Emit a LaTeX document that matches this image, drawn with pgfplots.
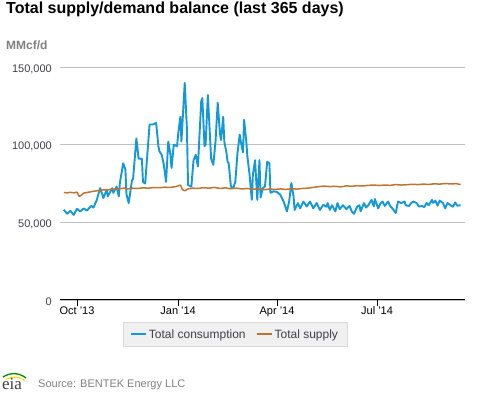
\documentclass[border=0pt]{standalone}
\usepackage{pgfplots}
\pgfplotsset{compat=1.18}
\usepackage{fontspec}
\setmainfont{Liberation Sans}
\newfontfamily\seriffont{Liberation Serif}
\definecolor{cons}{RGB}{20,152,215}
\definecolor{supp}{RGB}{190,116,46}
\definecolor{gridc}{RGB}{192,192,192}
\definecolor{lab}{RGB}{64,64,72}
\begin{document}
\begin{tikzpicture}[x=1pt,y=1pt]
\path[use as bounding box] (0,0) rectangle (477,393);
\node[anchor=base west, inner sep=0, font=\bfseries\fontsize{16}{16}\selectfont] at (6,379.5) {Total supply/demand balance (last 365 days)};
\node[anchor=base west, inner sep=0, text=gray, font=\bfseries\fontsize{12}{12}\selectfont] at (6,343) {MMcf/d};
\begin{axis}[
  at={(60pt,93pt)}, anchor=south west,
  width=405pt, height=233pt, scale only axis,
  xmin=-15.5, xmax=353, ymin=0, ymax=150000,
  axis x line*=bottom, axis y line*=left,
  x axis line style={black,-, line width=1pt},
  y axis line style={draw=none},
  ytick={0,50000,100000,150000},
  yticklabels={0,{50,000},{100,000},{150,000}},
  xtick={0,92,182,273},
  xticklabels={{Oct '13},{Jan '14},{Apr '14},{Jul '14}},
  ymajorgrids, grid style={gridc, line width=0.8pt},
  ytick style={draw=none},
  xtick style={black, line width=0.8pt},
  xtick align=outside, major tick length=6pt,
  scaled y ticks=false,
  yticklabel style={font=\fontsize{11}{11}\selectfont, text=lab, anchor=east, inner sep=0pt, xshift=-8pt, yshift=-2pt},
  xticklabel style={font=\fontsize{11}{11}\selectfont, text=black, anchor=north, inner sep=0pt, yshift=-0.5pt},
  legend columns=2,
  legend style={at={(0.432,-0.148)}, anchor=center, fill=gray!12, draw=gray!30,
    font=\fontsize{12}{12}\selectfont, text=lab, inner xsep=7pt, inner ysep=5pt,
    /tikz/every even column/.append style={column sep=8pt}},
  legend image code/.code={\draw[#1, line width=2pt] (0pt,0pt) -- (15pt,0pt);},
  clip=false,
]
\addplot[cons, line width=1.9pt, line join=round, mark=none] coordinates {
(-12,58100) (-9,55500) (-6,57400) (-3,54800) (0,58700) (3,57000) (6,58900) (9,57600)
(13,60600) (15,59500) (18,64500) (21,72000) (22,70000) (24,65600) (27,71000) (28,66700)
(32,72000) (33,69000) (36,73000) (38,66700) (39,75500) (42,88000) (44,84000) (45,68000)
(47,62400) (50,77000) (51,78000) (54,104000) (56,91000) (59,91000) (60,76000) (62,75000)
(66,113000) (69,113000) (72,114000) (74,99000) (75,95700) (77,93500) (79,87000) (81,76000)
(83,102000) (85,93500) (86,85000) (88,100000) (91,99000) (92,106500) (94,118000) (95,102000)
(98,139800) (100,110000) (101,74000) (104,73000) (106,90000) (108,93500) (110,86000)
(113,128000) (114,130000) (116,99000) (117,100000) (119,132000) (120,119000) (122,91000)
(124,87000) (126,102000) (128,127000) (130,107500) (131,103000) (133,118000) (134,102000)
(136,94600) (137,89000) (138,88000) (140,73000) (142,72000) (144,76000) (146,94600)
(148,106500) (149,102000) (151,95000) (152,116000) (154,102000) (155,92500) (157,80600)
(159,64500) (160,80600) (162,90000) (164,64500) (166,90000) (167,66000) (169,72000)
(171,73000) (173,89000) (175,88000) (176,69000) (179,70000) (182,69500) (185,67700)
(188,63400) (191,57000) (193,63400) (195,75300) (197,66700) (198,58000) (201,62400)
(203,59000) (206,63400) (209,60200) (212,63400) (215,59000) (218,62400) (221,58000)
(224,61300) (227,60000) (228,62400) (230,58000) (232,61000) (235,57000) (237,62400)
(239,58500) (242,61000) (245,58500) (248,60500) (250,57000) (252,55500) (255,60200)
(257,61000) (258,57000) (261,62400) (263,59500) (265,61000) (268,64500) (270,60200)
(271,65000) (274,59000) (276,62000) (278,63400) (280,60500) (283,63400) (285,60500)
(288,58000) (290,56000) (292,63400) (295,62400) (298,63400) (299,61000) (302,60500)
(304,62400) (306,63400) (309,62400) (311,60200) (314,60500) (316,59800) (318,62400)
(320,61000) (323,64500) (324,62500) (326,64000) (328,60700) (330,64000) (333,62400)
(335,59000) (337,62400) (339,61500) (342,60000) (344,62800) (346,60700) (349,61000)
};
\addlegendentry{Total consumption}
\addplot[supp, line width=1.5pt, line join=round, mark=none] coordinates {
(-12,69200) (-9,69000) (-6,69300) (-3,69000) (0,69400) (1,68000) (2,66700) (4,67500)
(6,68800) (9,69200) (12,69600) (15,70000) (18,70300) (21,70600) (24,71000) (27,70700)
(30,71200) (33,71400) (36,71100) (40,71800) (43,72000) (46,71500) (50,72000) (55,71800)
(60,72200) (65,72000) (70,72400) (75,72300) (80,72600) (85,72500) (90,73000) (94,74000)
(96,71000) (98,70300) (101,71500) (105,72000) (110,71800) (115,72300) (120,72000)
(125,72500) (130,71800) (135,72200) (140,71600) (145,72000) (150,71500) (155,71800)
(160,71300) (165,71500) (170,71000) (175,71400) (180,71200) (185,71500) (190,71200)
(195,71600) (200,71400) (205,71800) (210,72000) (215,72500) (220,73000) (225,73300)
(230,73000) (235,73200) (240,72800) (245,73500) (250,73200) (255,73600) (260,73400)
(265,73800) (270,74000) (275,73700) (280,74000) (285,73800) (290,74300) (295,74000)
(300,74200) (305,74500) (310,74300) (315,74600) (320,74400) (325,74800) (330,74600)
(335,75000) (340,74700) (345,74900) (349,74300)
};
\addlegendentry{Total supply}
\end{axis}
% eia logo
\draw[green!55!black, line width=1.3pt] (3,16) to[bend left=35] (26,15);
\draw[yellow!80!orange, line width=1.1pt] (6,13.5) to[bend left=30] (25,12.5);
\node[anchor=base west, inner sep=0, text=black!75, font=\seriffont\fontsize{17}{17}\selectfont] at (2,3) {eia};
\node[anchor=base west, inner sep=0, text=gray, font=\fontsize{11}{11}\selectfont] at (38,5) {Source: BENTEK Energy LLC};
\end{tikzpicture}
\end{document}
